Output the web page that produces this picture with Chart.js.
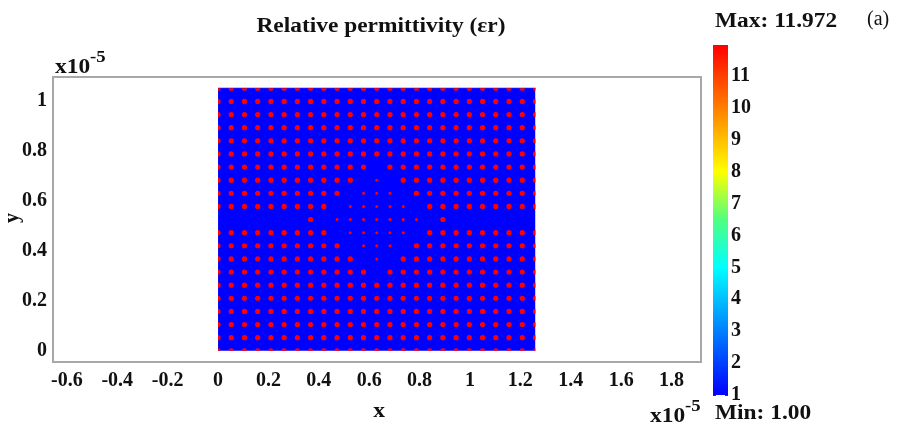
<!DOCTYPE html>
<html>
<head>
<meta charset="utf-8">
<title>Relative permittivity</title>
<script src="https://cdn.jsdelivr.net/npm/chart.js@4.4.1/dist/chart.umd.min.js"></script>
<style>
  html, body { margin: 0; padding: 0; background: #fff; }
  #wrap { position: relative; width: 900px; height: 425px; overflow: hidden; }
  #main { position: absolute; left: 0; top: 0; }
  #bar { position: absolute; left: 700px; top: 30px; }
</style>
</head>
<body>
<div id="wrap">
  <canvas id="main" width="900" height="425"></canvas>
  <canvas id="bar" width="120" height="380"></canvas>
</div>
<script>
// Relative permittivity map: rods in a slab, with a cavity + waveguide defect

// axis ticks and ranges (units of 1e-5 m)
const xTicks = [-0.6, -0.4, -0.2, 0, 0.2, 0.4, 0.6, 0.8, 1, 1.2, 1.4, 1.6, 1.8];
const yTicks = [0, 0.2, 0.4, 0.6, 0.8, 1];
const xRange = [-0.655, 1.917];
const yRange = [-0.045, 1.095];

// the dielectric slab (background eps = 1 shown as blue)
const slabX = [0, 1.26];
const slabY = [0, 1.05];

// rod lattice positions
const colX = [0, 0.0525, 0.105, 0.1575, 0.21, 0.2625, 0.315, 0.3675, 0.42, 0.4725,
  0.525, 0.5775, 0.63, 0.6825, 0.735, 0.7875, 0.84, 0.8925, 0.945, 0.9975,
  1.05, 1.1025, 1.155, 1.2075, 1.26];
const rowY = [0, 0.0525, 0.105, 0.1575, 0.21, 0.2625, 0.315, 0.3675, 0.42, 0.4725,
  0.525, 0.5775, 0.63, 0.6825, 0.735, 0.7875, 0.84, 0.8925, 0.945, 0.9975, 1.05];

// rods per row, top row first: o = full rod, . = small rod, - = no rod
const rodRows = [
  'ooooooooooooooooooooooooo',
  'ooooooooooooooooooooooooo',
  'ooooooooooooooooooooooooo',
  'ooooooooooooooooooooooooo',
  'ooooooooooooooooooooooooo',
  'ooooooooooooooooooooooooo',
  'oooooooooooo-oooooooooooo',
  'ooooooooooo-.-ooooooooooo',
  'oooooooooo-...-oooooooooo',
  'ooooooooo-.....-ooooooooo',
  '-------o-.......-o-------',
  'ooooooooo-.....-ooooooooo',
  'oooooooooo-...-oooooooooo',
  'ooooooooooo-.-ooooooooooo',
  'oooooooooooo-oooooooooooo',
  'ooooooooooooooooooooooooo',
  'ooooooooooooooooooooooooo',
  'ooooooooooooooooooooooooo',
  'ooooooooooooooooooooooooo',
  'ooooooooooooooooooooooooo',
  'ooooooooooooooooooooooooo',
];

// colour bar
const cbTicks = [1, 2, 3, 4, 5, 6, 7, 8, 9, 10, 11];
const cbRange = [1, 11.972];
const cbStops = [1, 5, 6.5, 8, 11.972];
const cbColors = ['#0000ff', '#00ffff', '#50ff80', '#ffff00', '#ff0000'];

const SERIF = "'Liberation Serif', 'Times New Roman', serif";
const TEXT = '#111';
const STRETCH = 1.17; // the figure text is a bit wider than plain Times

const fullRods = [];
const smallRods = [];
rodRows.forEach((row, r) => {
    const y = rowY[rowY.length - 1 - r];
    [...row].forEach((c, i) => {
        if (c === 'o') fullRods.push({ x: colX[i], y });
        else if (c === '.') smallRods.push({ x: colX[i], y });
    });
});

// clip rods to the slab outline
const slabClip = {
    id: 'slabClip',
    beforeDatasetDraw(chart, args) {
        if (!chart.data.datasets[args.index].clipToSlab) return;
        const xs = chart.scales.x, ys = chart.scales.y;
        const x0 = xs.getPixelForValue(slabX[0]), x1 = xs.getPixelForValue(slabX[1]);
        const y0 = ys.getPixelForValue(slabY[1]), y1 = ys.getPixelForValue(slabY[0]);
        const ctx = chart.ctx;
        ctx.save();
        ctx.beginPath();
        ctx.rect(x0, y0, x1 - x0, y1 - y0);
        ctx.clip();
    },
    afterDatasetDraw(chart, args) {
        if (!chart.data.datasets[args.index].clipToSlab) return;
        chart.ctx.restore();
    },
};

// text drawn a little wider, anchored at x
function wideText(ctx, str, x, y, align) {
    ctx.save();
    ctx.translate(x, y);
    ctx.scale(STRETCH, 1);
    ctx.textAlign = align;
    ctx.fillText(str, 0, 0);
    const w = ctx.measureText(str).width * STRETCH;
    ctx.restore();
    return w;
}

// plot frame and figure texts
const figureText = {
    id: 'figureText',
    afterDraw(chart) {
        const ctx = chart.ctx;
        const a = chart.chartArea;
        ctx.save();
        ctx.strokeStyle = '#a8a8a8';
        ctx.lineWidth = 2;
        ctx.strokeRect(a.left, a.top, a.right - a.left, a.bottom - a.top);

        ctx.fillStyle = TEXT;
        ctx.textBaseline = 'middle';
        ctx.font = 'bold 20px ' + SERIF;
        wideText(ctx, 'Relative permittivity (\u03B5r)', 381, 27, 'center');
        wideText(ctx, 'x', 379, 412, 'center');

        ctx.save();
        ctx.translate(13, 218);
        ctx.rotate(-Math.PI / 2);
        ctx.textAlign = 'center';
        ctx.fillText('y', 0, 0);
        ctx.restore();

        // exponent labels
        const expo = (x, y) => {
            ctx.textBaseline = 'alphabetic';
            ctx.font = 'bold 20px ' + SERIF;
            const w = wideText(ctx, 'x10', x, y, 'left');
            ctx.font = 'bold 16px ' + SERIF;
            wideText(ctx, '-5', x + w, y - 11, 'left');
        };
        expo(55, 73);
        expo(650, 422);

        ctx.textBaseline = 'middle';
        ctx.font = 'bold 20px ' + SERIF;
        wideText(ctx, 'Max: ' + cbRange[1].toFixed(3), 715, 22, 'left');
        wideText(ctx, 'Min: ' + cbRange[0].toFixed(2), 715, 414, 'left');
        ctx.font = '20px ' + SERIF;
        ctx.textAlign = 'left';
        ctx.fillText('(a)', 867, 20);
        ctx.restore();
    },
};

const tickFont = { family: SERIF, size: 20, weight: 'bold' };

new Chart(document.getElementById('main'), {
    type: 'scatter',
    data: {
        datasets: [
            {
                data: fullRods,
                clipToSlab: true,
                pointRadius: 2.6,
                pointBorderWidth: 0,
                pointBackgroundColor: '#ff0000',
                order: 0,
            },
            {
                data: smallRods,
                clipToSlab: true,
                pointRadius: 1.5,
                pointBorderWidth: 0,
                pointBackgroundColor: '#ff0000',
                order: 0,
            },
            {
                type: 'line',
                data: [{ x: slabX[0], y: slabY[1] }, { x: slabX[1], y: slabY[1] }],
                fill: { value: slabY[0] },
                backgroundColor: '#0000ff',
                borderColor: '#0000ff',
                borderWidth: 1,
                pointRadius: 0,
                order: 2,
            },
        ],
    },
    options: {
        responsive: false,
        animation: false,
        events: [],
        layout: { padding: { left: 0, top: 77, right: 199, bottom: 33 } },
        plugins: {
            legend: { display: false },
            tooltip: { enabled: false },
        },
        scales: {
            x: {
                type: 'linear',
                min: xRange[0],
                max: xRange[1],
                afterBuildTicks: (axis) => { axis.ticks = xTicks.map(v => ({ value: v })); },
                afterFit: (axis) => { axis.height = 30; },
                grid: { display: false, drawTicks: false },
                border: { display: false },
                ticks: {
                    padding: 7,
                    color: TEXT,
                    font: tickFont,
                    maxRotation: 0,
                    autoSkip: false,
                    callback: (v) => String(v),
                },
            },
            y: {
                type: 'linear',
                min: yRange[0],
                max: yRange[1],
                afterBuildTicks: (axis) => { axis.ticks = yTicks.map(v => ({ value: v })); },
                afterFit: (axis) => { axis.width = 53; },
                grid: { display: false, drawTicks: false },
                border: { display: false },
                ticks: {
                    padding: 6,
                    color: TEXT,
                    font: tickFont,
                    autoSkip: false,
                    callback: (v) => String(v),
                },
            },
        },
    },
    plugins: [slabClip, figureText],
});

// colour bar
new Chart(document.getElementById('bar'), {
    type: 'bar',
    data: {
        labels: [''],
        datasets: [{
            data: [cbRange],
            borderWidth: 0,
            barPercentage: 1,
            categoryPercentage: 1,
            backgroundColor: (context) => {
                const chart = context.chart;
                if (!chart.chartArea) return null;
                const ys = chart.scales.y;
                const g = chart.ctx.createLinearGradient(
                    0, ys.getPixelForValue(cbRange[0]), 0, ys.getPixelForValue(cbRange[1]));
                cbStops.forEach((v, i) => {
                    g.addColorStop((v - cbRange[0]) / (cbRange[1] - cbRange[0]), cbColors[i]);
                });
                return g;
            },
        }],
    },
    options: {
        responsive: false,
        animation: false,
        events: [],
        layout: { padding: { left: 13, top: 7, right: 0, bottom: 15 } },
        plugins: {
            legend: { display: false },
            tooltip: { enabled: false },
        },
        scales: {
            x: { display: false },
            y: {
                position: 'right',
                min: cbRange[0],
                max: cbRange[1],
                z: 1,
                afterBuildTicks: (axis) => { axis.ticks = cbTicks.map(v => ({ value: v })); },
                afterFit: (axis) => { axis.width = 92; },
                grid: { drawOnChartArea: true, drawTicks: false, color: '#333', lineWidth: 1 },
                border: { display: false, dash: [3, 9] },
                ticks: {
                    padding: 3,
                    color: TEXT,
                    font: tickFont,
                    autoSkip: false,
                    callback: (v) => String(v),
                },
            },
        },
    },
});
</script>
</body>
</html>
